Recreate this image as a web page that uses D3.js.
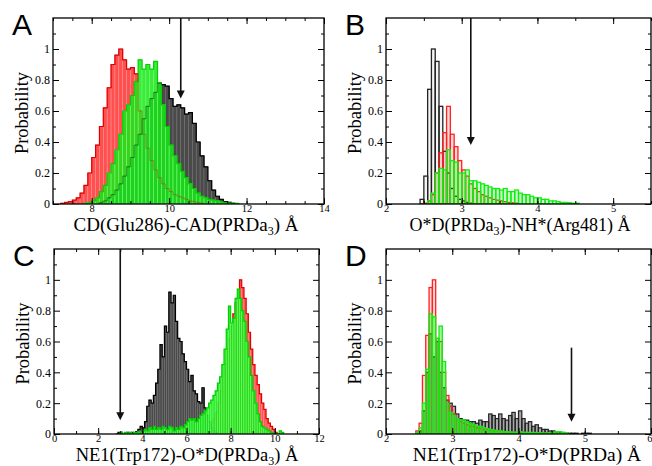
<!DOCTYPE html>
<html><head><meta charset="utf-8">
<script src="https://cdn.jsdelivr.net/npm/d3@7"></script>
<style>
body{margin:0;background:#fff}
</style></head><body>
<svg id="chart" width="652" height="466"></svg>
<script>
// Panel A: CD(Glu286)-CAD(PRDa3), bins of 0.1 A
const aBin = 0.1;
const aRedStart = 7.2;
const aRed = [0.005,0.01,0.015,0.025,0.04,0.07,0.12,0.2,0.3,0.38,0.5,0.62,0.75,0.9,0.96,1.0,0.93,0.87,0.88,0.84,0.6,0.45,0.36,0.28,0.22,0.17,0.13,0.1,0.08,0.06,0.05,0.04,0.03,0.02,0.015,0.01,0.005];
const aGreenStart = 7.8;
const aGreen = [0.005,0.01,0.02,0.04,0.08,0.12,0.2,0.26,0.35,0.45,0.6,0.64,0.7,0.79,0.93,0.87,0.9,0.87,0.92,0.78,0.64,0.5,0.38,0.31,0.26,0.21,0.17,0.13,0.1,0.07,0.05,0.04,0.03,0.025,0.02,0.015,0.01,0.01,0.005,0.005];
const aBlackStart = 8.2;
const aBlack = [0.01,0.02,0.04,0.06,0.09,0.13,0.18,0.24,0.3,0.38,0.45,0.55,0.63,0.68,0.72,0.78,0.77,0.76,0.68,0.63,0.64,0.62,0.58,0.59,0.52,0.4,0.31,0.24,0.15,0.09,0.05,0.03,0.015,0.01,0.005];
const aArrow = [10.3, 1.2, 0.68];

// Panel B: O*D(PRDa3)-NH*(Arg481), bins of 0.05 A
const bBin = 0.05;
const bBlackStart = 2.45;
const bBlack = [0.03,0.18,0.74,1.0,0.92,0.63,0.34,0.2,0.1,0.05,0.03,0.02,0.01,0.005];
const bRedStart = 2.5;
const bRed = [0.005,0.02,0.06,0.2,0.33,0.46,0.63,0.45,0.37,0.28,0.22,0.18,0.13,0.1,0.08,0.06,0.05,0.04,0.03,0.025,0.02,0.015,0.01,0.008,0.005];
const bGreenStart = 2.55;
const bGreen = [0.02,0.07,0.2,0.23,0.22,0.35,0.28,0.27,0.2,0.2,0.22,0.15,0.15,0.14,0.13,0.12,0.11,0.1,0.1,0.09,0.1,0.08,0.08,0.09,0.07,0.06,0.06,0.05,0.04,0.04,0.03,0.03,0.02,0.02,0.015,0.01,0.01,0.008,0.005,0.005];
const bArrow = [3.12, 1.2, 0.38];

// Panel C: NE1(Trp172)-O*D(PRDa3), bins of 0.1 A
const cBin = 0.1;
const cBlackStart = 2.8;
const cBlack = [0,0.01,0.01,0,0,0.01,0,0.01,0,0.015,0.03,0.05,0.04,0.08,0.18,0.22,0.2,0.25,0.33,0.42,0.58,0.5,0.7,0.66,0.92,0.85,0.9,0.73,0.62,0.6,0.52,0.47,0.42,0.34,0.38,0.28,0.26,0.21,0.2,0.3,0.17,0.12,0.08,0.04,0.02,0.01];
const cGreenStart = 3.0;
const cGreen = [0.01,0.005,0.01,0.005,0.01,0.005,0.01,0.01,0.015,0.01,0.02,0.03,0.02,0.04,0.03,0.05,0.03,0.04,0.03,0.05,0.04,0.03,0.05,0.04,0.02,0.04,0.03,0.05,0.04,0.06,0.08,0.1,0.09,0.1,0.08,0.1,0.12,0.13,0.15,0.17,0.2,0.22,0.25,0.28,0.33,0.37,0.45,0.55,0.68,0.83,0.72,0.75,0.88,0.94,0.88,0.8,0.73,0.6,0.5,0.38,0.28,0.2,0.13,0.08,0.05,0.04,0.03,0.02,0.01,0.005,0.005,0,0.02,0.01];
const cRedStart = 6.8;
const cRed = [0.02,0.03,0.05,0.07,0.1,0.14,0.2,0.28,0.36,0.45,0.55,0.62,0.7,0.78,0.85,0.88,1.0,0.95,0.88,0.78,0.66,0.55,0.45,0.38,0.32,0.26,0.2,0.16,0.1,0.07,0.05,0.03,0.01];
const cArrow = [3.0, 1.2, 0.09];

// Panel D: NE1(Trp172)-O*D(PRDa), bins of 0.05 A
const dBin = 0.05;
const dBlackStart = 2.45;
const dBlack = [0.01,0.02,0.15,0.4,0.65,0.5,0.6,0.4,0.3,0.22,0.2,0.18,0.13,0.1,0.09,0.09,0.08,0.08,0.07,0.09,0.08,0.08,0.13,0.12,0.1,0.13,0.1,0.09,0.12,0.14,0.1,0.15,0.1,0.07,0.08,0.05,0.06,0.04,0.03,0.03,0.02,0.02,0.01,0.01,0.01,0.005,0.005,0.005,0.005,0,0.005,0.005,0.005];
const dRedStart = 2.45;
const dRed = [0.02,0.07,0.38,0.64,0.95,1.0,0.62,0.6,0.4,0.25,0.18,0.13,0.1,0.08,0.07,0.06,0.05,0.05,0.04,0.035,0.03,0.03,0.025,0.02,0.02,0.02,0.015,0.015,0.01,0.01,0.01,0.01,0.01,0.008,0.008,0.006,0.006,0.005,0.005,0.005,0.005,0.005,0.01,0.005];
const dGreenStart = 2.45;
const dGreen = [0.01,0.04,0.2,0.42,0.78,0.76,0.62,0.7,0.47,0.2,0.14,0.12,0.1,0.09,0.09,0.08,0.07,0.06,0.05,0.05,0.04,0.035,0.03,0.025,0.02,0.02,0.015,0.015,0.012,0.012,0.01,0.015,0.01,0.01,0.01,0.01,0.008,0.008,0.006,0.006,0.008,0.01,0.015,0.015,0.01,0.005];
const dArrow = [4.8, 0.56, 0.08];

const yLabels = [0, 0.2, 0.4, 0.6, 0.8, 1];

const serif = "'Liberation Serif', 'Times New Roman', Times, serif";
const sans = "'Liberation Sans', Arial, Helvetica, sans-serif";
const svg = d3.select("#chart");

function drawPanel(o) {
  const x = d3.scaleLinear().domain(o.xDomain).range([o.left, o.right]);
  const y = d3.scaleLinear().domain([0, 1.2]).range([o.bottom, o.top]);
  const g = svg.append("g");

  g.append("clipPath").attr("id", "clip" + o.letter)
    .append("rect").attr("x", o.left).attr("y", o.top)
    .attr("width", o.right - o.left).attr("height", o.bottom - o.top);
  const plot = g.append("g").attr("clip-path", `url(#clip${o.letter})`);

  const line = d3.line().x(d => x(d[0])).y(d => y(d[1]));
  const stepPoints = bins => {
    const pts = [[bins[0].x0, 0]];
    bins.forEach(b => { pts.push([b.x0, b.v]); pts.push([b.x1, b.v]); });
    pts.push([bins[bins.length - 1].x1, 0]);
    return pts;
  };

  const allBins = o.series.map(s => s.values.map((v, i) => ({
    x0: s.start + i * o.bin, x1: s.start + (i + 1) * o.bin, v
  })));

  o.series.forEach((s, k) => {
    const bins = allBins[k];
    plot.append("g").selectAll("rect")
      .data(bins.filter(b => b.v > 0))
      .join("rect")
      .attr("x", b => x(b.x0))
      .attr("width", b => x(b.x1) - x(b.x0))
      .attr("y", b => y(b.v))
      .attr("height", b => y(0) - y(b.v))
      .attr("fill", s.fill)
      .attr("fill-opacity", s.fillOpacity)
      .attr("stroke", s.bar)
      .attr("stroke-width", s.barWidth);
    if (s.line) {
      plot.append("path").attr("d", line(stepPoints(bins)))
        .attr("fill", "none").attr("stroke", s.line)
        .attr("stroke-width", 1.2);
    }
  });
  // outlines of hidden sets seen through the front set
  (o.ghost || []).forEach(k => {
    plot.append("path").attr("d", line(stepPoints(allBins[k])))
      .attr("fill", "none").attr("stroke", o.series[k].line)
      .attr("stroke-width", 1).attr("stroke-opacity", 0.35);
  });

  // axes, ticks pointing inward
  const axisStyle = sel => {
    sel.select(".domain").remove();
    sel.attr("font-family", null);
    sel.selectAll("line").attr("stroke", "#000").attr("stroke-width", 1);
    sel.selectAll("text").style("font-family", serif).attr("fill", "#000");
  };
  const addAxis = (axis, tr) => g.append("g").attr("transform", tr).call(axis).call(axisStyle);
  const bottom = `translate(0,${o.bottom})`, top = `translate(0,${o.top})`;
  const left = `translate(${o.left},0)`, right = `translate(${o.right},0)`;

  addAxis(d3.axisBottom(x).tickValues(o.xMinor).tickSize(-3).tickFormat(""), bottom);
  addAxis(d3.axisTop(x).tickValues(o.xMinor).tickSize(-3).tickFormat(""), top);
  addAxis(d3.axisTop(x).tickValues(o.xMajor).tickSize(-6).tickFormat(""), top);
  const xl = addAxis(d3.axisBottom(x).tickValues(o.xMajor).tickSize(-6).tickPadding(1)
      .tickFormat(d3.format("~g")), bottom);
  xl.selectAll("text").attr("font-size", 10.5);
  // last label sits on the page edge: keep it inside
  if (o.right > 645) xl.selectAll("text").filter(d => d === o.xDomain[1]).attr("text-anchor", "end").attr("x", 1);
  addAxis(d3.axisLeft(y).tickValues(d3.range(0.1, 1.2, 0.2)).tickSize(-3).tickFormat(""), left);
  addAxis(d3.axisRight(y).tickValues(d3.range(0.1, 1.2, 0.2)).tickSize(-3).tickFormat(""), right);
  addAxis(d3.axisRight(y).tickValues(yLabels).tickSize(-6).tickFormat(""), right);
  addAxis(d3.axisLeft(y).tickValues(yLabels).tickSize(-6).tickPadding(3)
      .tickFormat(d3.format("~g")), left)
    .selectAll("text").attr("font-size", 12);

  g.append("rect").attr("x", o.left).attr("y", o.top)
    .attr("width", o.right - o.left).attr("height", o.bottom - o.top)
    .attr("fill", "none").attr("stroke", "#000").attr("stroke-width", 1.3);

  // arrow
  const [ax, ay0, ay1] = o.arrow;
  const tipY = y(ay1);
  g.append("line").attr("x1", x(ax)).attr("x2", x(ax))
    .attr("y1", y(ay0)).attr("y2", tipY - 6)
    .attr("stroke", "#111").attr("stroke-width", 1.6);
  g.append("path")
    .attr("d", `M${x(ax) - 4},${tipY - 8}L${x(ax) + 4},${tipY - 8}L${x(ax)},${tipY}Z`)
    .attr("fill", "#111");

  // labels
  g.append("text").attr("x", o.left - 41).attr("y", o.top + 17)
    .style("font-family", sans).attr("font-size", 30).text(o.letter);
  g.append("text")
    .attr("transform", `translate(${o.left - 25},${(o.top + o.bottom) / 2 + 2}) rotate(-90)`)
    .style("font-family", serif)
    .attr("text-anchor", "middle").attr("font-size", 18.5).text("Probability");
  const t = g.append("text").attr("x", o.titleX).attr("y", o.bottom + 26.5)
    .style("font-family", serif)
    .attr("text-anchor", "middle").attr("font-size", o.titleSize);
  t.append("tspan").text(o.title[0]);
  if (o.title[1]) {
    t.append("tspan").attr("font-size", 12).attr("dy", 4).text(o.title[1]);
    t.append("tspan").attr("dy", -4).text(o.title[2]);
  }
}

const redFill = "#ff5050", greenFill = "#18e818", greyFill = "#4a4a4a";

drawPanel({
  letter: "A", left: 53, right: 324, top: 18, bottom: 204,
  xDomain: [7, 14], xMajor: [8, 10, 12, 14], xMinor: d3.range(7, 14.01, 0.5),
  bin: aBin, arrow: aArrow, titleX: 186, titleSize: 19,
  title: ["CD(Glu286)-CAD(PRDa", "3", ") Å"],
  series: [
    {start: aRedStart, values: aRed, fill: redFill, fillOpacity: 1, bar: "#ff8a8a", barWidth: 0.6, line: "#e00000"},
    {start: aBlackStart, values: aBlack, fill: greyFill, fillOpacity: 1, bar: "#707070", barWidth: 0.6, line: "#000"},
    {start: aGreenStart, values: aGreen, fill: greenFill, fillOpacity: 0.85, bar: "#6cff6c", barWidth: 0.6, line: "#00d000"}
  ],
  ghost: [0, 1]
});

drawPanel({
  letter: "B", left: 386, right: 651, top: 18, bottom: 204,
  xDomain: [2, 5.5], xMajor: [2, 3, 4, 5], xMinor: d3.range(2, 5.51, 0.5),
  bin: bBin, arrow: bArrow, titleX: 520, titleSize: 18,
  title: ["O*D(PRDa", "3", ")-NH*(Arg481) Å"],
  series: [
    {start: bBlackStart, values: bBlack, fill: "#000", fillOpacity: 0.04, bar: "#222", barWidth: 1.3},
    {start: bRedStart, values: bRed, fill: "#ff0000", fillOpacity: 0.15, bar: "#ff2020", barWidth: 1.3},
    {start: bGreenStart, values: bGreen, fill: "#00ff00", fillOpacity: 0.2, bar: "#10ee10", barWidth: 1.3}
  ]
});

drawPanel({
  letter: "C", left: 54, right: 319, top: 249, bottom: 434,
  xDomain: [0, 12], xMajor: d3.range(0, 12.01, 2), xMinor: d3.range(0, 12.01, 1),
  bin: cBin, arrow: cArrow, titleX: 187, titleSize: 18.5,
  title: ["NE1(Trp172)-O*D(PRDa", "3", ") Å"],
  series: [
    {start: cRedStart, values: cRed, fill: redFill, fillOpacity: 1, bar: "#ff8a8a", barWidth: 0.6, line: "#e00000"},
    {start: cBlackStart, values: cBlack, fill: greyFill, fillOpacity: 1, bar: "#707070", barWidth: 0.6, line: "#000"},
    {start: cGreenStart, values: cGreen, fill: greenFill, fillOpacity: 0.9, bar: "#6cff6c", barWidth: 0.6, line: "#00d000"}
  ]
});

drawPanel({
  letter: "D", left: 386, right: 651, top: 249, bottom: 434,
  xDomain: [2, 6], xMajor: [2, 3, 4, 5, 6], xMinor: d3.range(2, 6.01, 0.5),
  bin: dBin, arrow: dArrow, titleX: 527, titleSize: 19.5,
  title: ["NE1(Trp172)-O*D(PRDa) Å"],
  series: [
    {start: dBlackStart, values: dBlack, fill: "#000", fillOpacity: 0.35, bar: "#222", barWidth: 1.2},
    {start: dRedStart, values: dRed, fill: "#ff0000", fillOpacity: 0.15, bar: "#ff2020", barWidth: 1.3},
    {start: dGreenStart, values: dGreen, fill: "#00ff00", fillOpacity: 0.35, bar: "#10ee10", barWidth: 1.3}
  ]
});
</script>
</body></html>
